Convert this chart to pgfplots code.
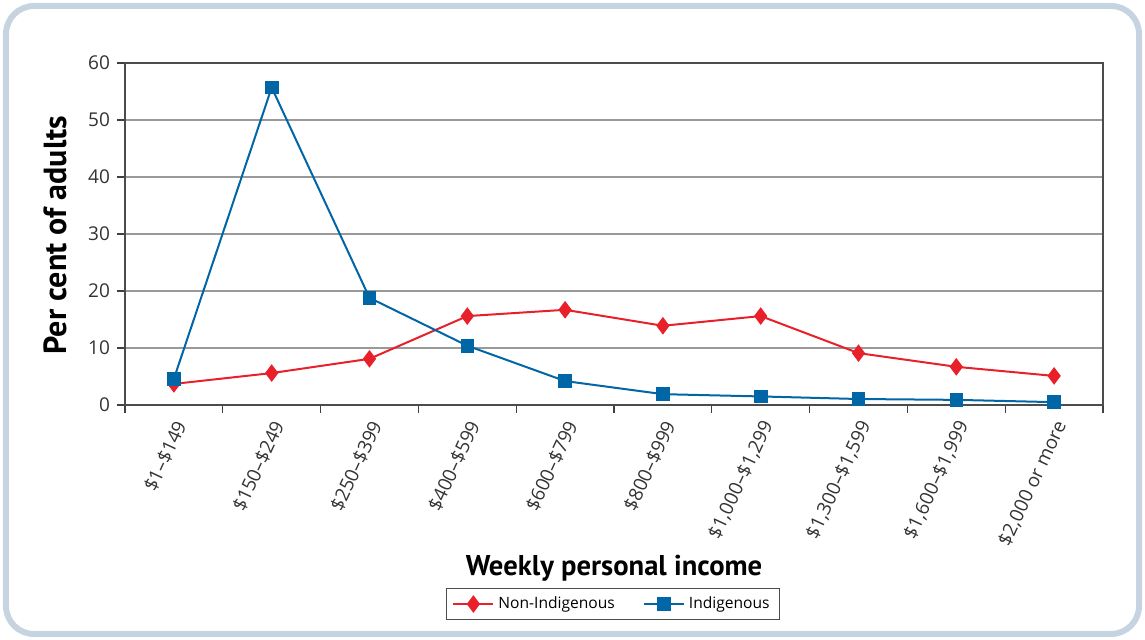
\documentclass[border=0pt]{standalone}
\usepackage{pgfplots}
\pgfplotsset{compat=1.18}
\usepackage{fontspec}
\setmainfont{Open Sans}
\newfontfamily\labelfont{PT Sans}
\definecolor{nonind}{HTML}{E8202A}
\definecolor{indig}{HTML}{0066A6}
\definecolor{framec}{HTML}{C6D4E2}
\definecolor{tickc}{HTML}{333333}

\begin{document}
\begin{tikzpicture}[x=1pt,y=1pt]
% frame: 1px of the reference = 0.5pt, axis origin at reference pixel (125,405)
\useasboundingbox (-62.5,-117.5) rectangle (510,202.5);
\draw[framec, line width=3pt, rounded corners=14pt] (-59.5,-114.5) rectangle (507,199.5);
\begin{axis}[
  at={(0,0)}, anchor=south west,
  scale only axis, width=489pt, height=171pt,
  xmin=-0.5, xmax=9.5, ymin=0, ymax=60,
  xtick={0,...,9},
  xticklabels={{\$1--\$149},{\$150--\$249},{\$250--\$399},{\$400--\$599},{\$600--\$799},{\$800--\$999},{\$1,000--\$1,299},{\$1,300--\$1,599},{\$1,600--\$1,999},{\$2,000 or more}},
  minor xtick={-0.5,0.5,...,9.5},
  major x tick style={draw=none},
  ytick={0,10,...,60},
  tick align=outside, major tick length=4pt, minor tick length=4pt,
  tick style={black!75, line width=0.6pt},
  xtick pos=bottom, ytick pos=left,
  ymajorgrids, grid style={black!40, line width=0.6pt},
  axis line style={black!70, line width=0.6pt},
  ticklabel style={font=\fontsize{9.5}{11}\selectfont, text=tickc},
  xticklabel style={xshift=5pt, yshift=-1.5pt, rotate=65, anchor=east},
  /pgf/number format/assume math mode=true,
  xlabel={Weekly personal income},
  ylabel={Per cent of adults},
  xlabel style={font=\labelfont\bfseries\fontsize{14.3}{17}\selectfont, at={(axis description cs:0.5,-0.477)}, anchor=center},
  ylabel style={font=\labelfont\bfseries\fontsize{16}{18}\selectfont, at={(axis description cs:-0.0716,0.497)}, anchor=center},
  legend style={at={(axis description cs:0.499,-0.582)}, anchor=center, legend columns=2,
    font=\fontsize{7.8}{9}\selectfont, draw=black!70, line width=0.5pt,
    /tikz/every even column/.append style={column sep=12pt}},
  legend image code/.code={
    \draw[#1, mark repeat=2, mark phase=2] plot coordinates {(0pt,0pt) (10pt,0pt) (20pt,0pt)};},
]
\addplot[nonind, line width=1pt, mark=diamond*, mark size=3.6pt] coordinates {
  (0,3.7) (1,5.6) (2,8.1) (3,15.6) (4,16.7) (5,13.9) (6,15.6) (7,9.1) (8,6.7) (9,5.1)};
\addlegendentry{Non-Indigenous}
\addplot[indig, line width=1pt, mark=square*, mark size=2.9pt] coordinates {
  (0,4.6) (1,55.7) (2,18.8) (3,10.4) (4,4.2) (5,1.9) (6,1.5) (7,1.05) (8,0.9) (9,0.5)};
\addlegendentry{Indigenous}
\end{axis}
\end{tikzpicture}
\end{document}
